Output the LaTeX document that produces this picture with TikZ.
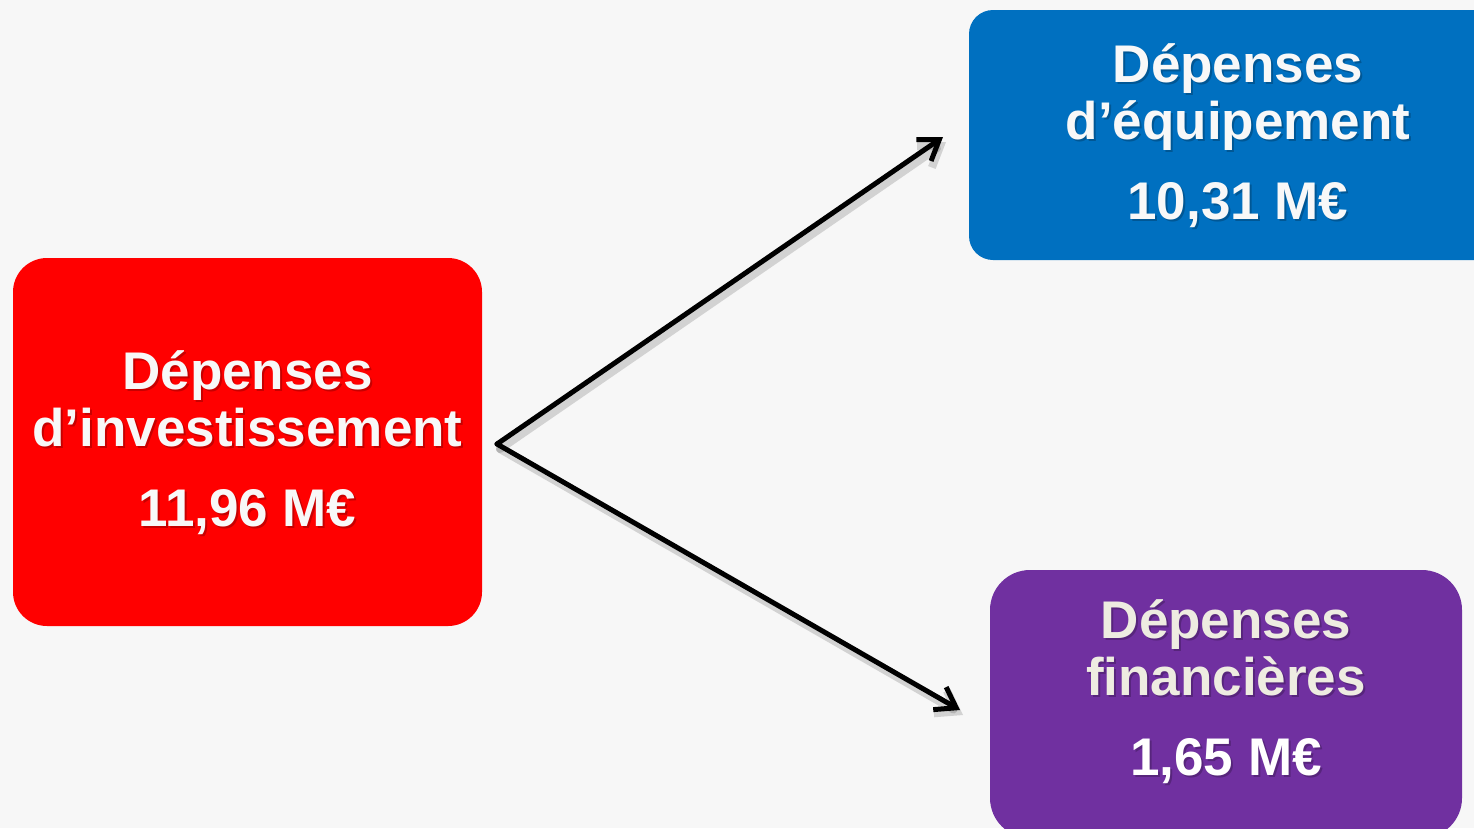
\documentclass[tikz,border=0pt]{standalone}
\usepackage{fontspec}
\setmainfont{Liberation Sans}
\usetikzlibrary{arrows.meta}
\definecolor{bgc}{HTML}{F7F7F7}
\definecolor{invred}{HTML}{FF0000}
\definecolor{eqblue}{HTML}{0070C0}
\definecolor{finpurple}{HTML}{7030A0}
\definecolor{offwhite}{HTML}{EEECE1}
\definecolor{txtwhite}{HTML}{F8F8F8}
\tikzset{
  box/.style={rectangle, draw=none, inner sep=0pt},
  lbl/.style={align=center, inner sep=0pt, font=\bfseries\fontsize{53}{57}\selectfont},
  shadowlbl/.style={lbl, text=black, opacity=0.22},
  conn/.style={line width=5pt, -{Straight Barb[length=19pt,width=26pt]}, line cap=round, line join=round},
  connshadow/.style={conn, draw=black, opacity=0.15, line width=8pt}
}
\begin{document}
\begin{tikzpicture}[x=1pt,y=-1pt]
\fill[bgc] (0,0) rectangle (1474,828);
\useasboundingbox (0,0) rectangle (1474,828);
% boxes
\node[box, fill=invred, rounded corners=34pt, minimum width=469pt, minimum height=368pt] (inv) at (247.5,442) {};
\node[box, fill=eqblue, rounded corners=24pt, minimum width=540pt, minimum height=250pt] (eq) at (1239,135) {};
\node[box, fill=finpurple, rounded corners=40pt, minimum width=472pt, minimum height=268pt] (fin) at (1226,704) {};
% text shadows
\node[shadowlbl] (invs) at (249.5,444.5) {Dépenses\\d’investissement\\[23pt]11,96 M€};
\node[shadowlbl] (eqs) at (1240,137.5) {Dépenses\\d’équipement\\[23pt]10,31 M€};
\node[shadowlbl] (fins) at (1228,693.5) {Dépenses\\financières\\[23pt]1,65 M€};
% texts
\node[lbl, text=txtwhite] (invt) at (247.5,442.5) {Dépenses\\d’investissement\\[23pt]11,96 M€};
\node[lbl, text=txtwhite] (eqt) at (1238,135.5) {Dépenses\\d’équipement\\[23pt]10,31 M€};
\node[lbl, text=offwhite] (fint) at (1226,691.5) {Dépenses\\financières\\[23pt]\textcolor{white}{1,65 M€}};
% connectors
\coordinate (hub) at (497,444);
\coordinate (tipeq) at (943,137);
\coordinate (tipfin) at (960,710);
\coordinate (hubs) at (500,449);
\coordinate (tipeqs) at (946,142);
\coordinate (tipfins) at (963,715);
\draw[connshadow] (hubs) -- (tipeqs);
\draw[connshadow] (hubs) -- (tipfins);
\draw[conn] (hub) -- (tipeq);
\draw[conn] (hub) -- (tipfin);
\end{tikzpicture}
\end{document}
